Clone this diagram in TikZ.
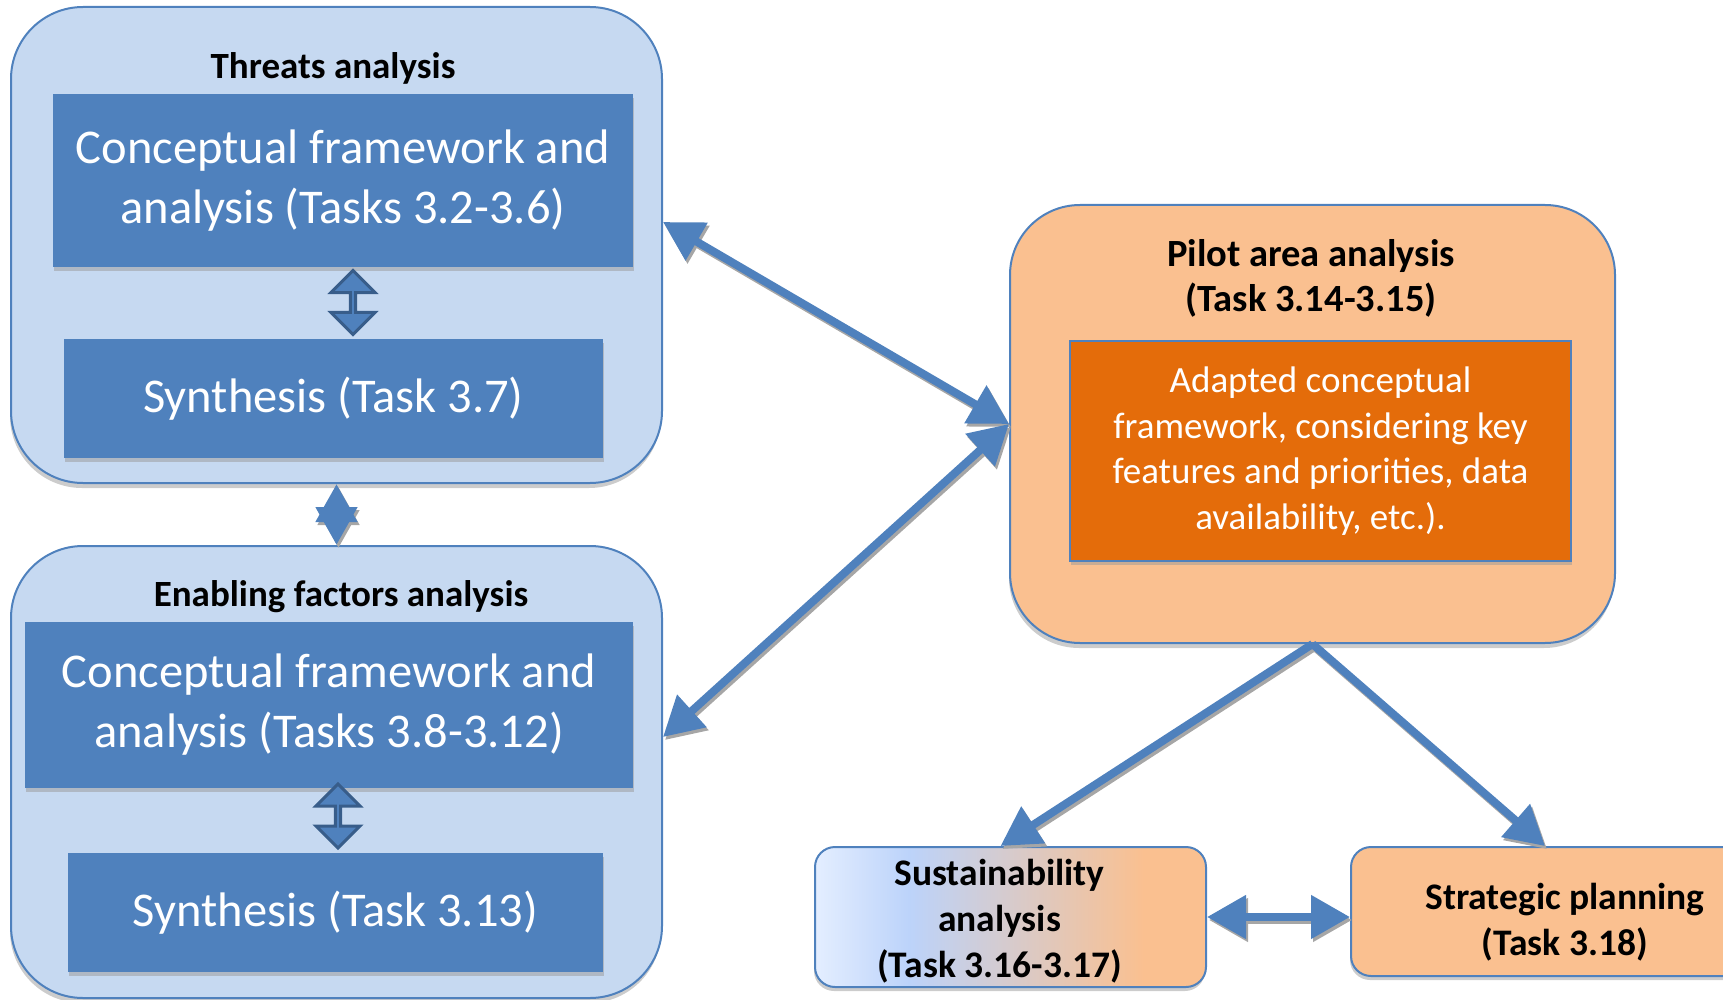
\documentclass[tikz,border=0pt]{standalone}
\usepackage{fontspec}
\setmainfont{Carlito}
\usetikzlibrary{arrows.meta,shadows,shapes.arrows}

\definecolor{wpBlue}{HTML}{4F81BD}
\definecolor{wpDark}{HTML}{385D8A}
\definecolor{wpPale}{HTML}{C6D9F1}
\definecolor{wpPeach}{HTML}{FAC090}
\definecolor{wpOrange}{HTML}{E46C0A}
\definecolor{wpIce}{HTML}{E4EEFF}
\definecolor{wpSky}{HTML}{BCD3FA}

% 25bp..75bp spans the box
\pgfdeclarehorizontalshading{sustshade}{100bp}{color(0bp)=(wpIce); color(25bp)=(wpIce);
  color(37bp)=(wpSky); color(67bp)=(wpPeach); color(100bp)=(wpPeach)}

\tikzset{
  group/.style={draw=wpBlue, line width=2pt, fill=wpPale, rounded corners=72pt,
    minimum width=651pt, drop shadow={shadow xshift=-1pt, shadow yshift=-5pt, fill=black!40}},
  headline/.style={font=\bfseries\fontsize{37}{45}\selectfont, align=center},
  task/.style={fill=wpBlue, text=white, align=center, inner sep=0pt,
    font=\fontsize{48.5}{60}\selectfont,
    drop shadow={shadow xshift=1pt, shadow yshift=-4pt, fill=black!40}},
  updown/.style={double arrow, rotate=90, draw=wpDark, fill=wpBlue, line width=3pt,
    minimum height=64pt, minimum width=44pt, double arrow head extend=11pt, inner sep=0pt},
  smallbox/.style={draw=wpBlue, line width=2pt, rounded corners=20pt,
    drop shadow={shadow xshift=-1pt, shadow yshift=-4pt, fill=black!40}},
  boxtext/.style={align=center, font=\bfseries\fontsize{37.5}{46}\selectfont},
  link/.style={draw=wpBlue, line width=8pt, >={Triangle[length=39pt, width=42pt]}},
  linkshadow/.style={link, draw=black!35, transform canvas={xshift=2pt, yshift=-3pt}},
  shortlink/.style={>={Triangle[length=38pt, width=40pt]}}
}

\begin{document}
\begin{tikzpicture}[x=1pt, y=-1pt]
  \useasboundingbox (0,0) rectangle (1723,1000);
  \clip (0,0) rectangle (1723,1000);

  % threats
  \node[group, minimum height=476pt] (threats) at (336.5,245) {};
  \node[headline] (threatsT) at (333,68) {Threats analysis};
  \node[task, minimum width=580pt, minimum height=173pt] (thrCF) at (343,180.5)
    {Conceptual framework and\\analysis (Tasks 3.2-3.6)};
  \node[task, minimum width=539pt, minimum height=119pt] (thrSy) at (333.5,398.5)
    {Synthesis (Task 3.7)};
  \node[updown] (thrUD) at (353,302.5) {};

  % enabling factors
  \node[group, minimum height=452pt] (enabling) at (336.5,772) {};
  \node[headline] (enablingT) at (341,597) {Enabling factors analysis};
  \node[task, minimum width=608pt, minimum height=166pt] (enaCF) at (329,705)
    {Conceptual framework and\\analysis (Tasks 3.8-3.12)};
  \node[task, minimum width=535pt, minimum height=119pt] (enaSy) at (335.5,912.5)
    {Synthesis (Task 3.13)};
  \node[updown] (enaUD) at (338,816) {};

  % pilot area
  \node[group, fill=wpPeach, rounded corners=70pt, minimum width=605pt,
    minimum height=438pt] (pilot) at (1312.5,424) {};
  \node[headline, font=\bfseries\fontsize{38.5}{45}\selectfont] (pilotT) at (1311,278)
    {Pilot area analysis\\(Task 3.14-3.15)};
  \node[draw=wpBlue, line width=2pt, fill=wpOrange, text=white, align=center,
    minimum width=501pt, minimum height=220pt, font=\fontsize{37}{45.5}\selectfont,
    drop shadow={shadow xshift=1pt, shadow yshift=-4pt, fill=black!40}] (pilotIn) at (1320.5,451)
    {Adapted conceptual\\framework, considering key\\features and priorities, data\\availability, etc.).};

  % follow-up
  \node[smallbox, shading=sustshade, minimum width=391pt, minimum height=140pt] (sust) at (1010.5,917) {};
  \node[boxtext] (sustT) at ([xshift=-11pt, yshift=-4pt]sust.center) {Sustainability\\analysis\\(Task 3.16-3.17)};
  \node[smallbox, fill=wpPeach, minimum width=428pt, minimum height=129pt] (strat) at (1565,911.5) {};
  \node[boxtext] (stratT) at ([yshift=-11pt]strat.center) {Strategic planning\\(Task 3.18)};

  \coordinate (thrA) at ([yshift=23pt]threats.east);
  \coordinate (enaA) at ([yshift=35pt]enabling.east);
  \coordinate (susA) at ([xshift=-10pt]sust.north);
  \coordinate (strA) at ([xshift=-20pt]strat.north);
  \coordinate (strB) at (sust.east -| strat.west);

  \begin{scope}[linkshadow]
    \draw[<->] (thrA) -- (pilot.west);
    \draw[<->] (enaA) -- (pilot.west);
    \draw[->] (pilot.south) -- (susA);
    \draw[->] (pilot.south) -- (strA);
    \draw[<->] (sust.east) -- (strB);
    \draw[<->, shortlink] (threats.south) -- (enabling.north);
  \end{scope}
  \begin{scope}[link]
    \draw[<->] (thrA) -- (pilot.west);
    \draw[<->] (enaA) -- (pilot.west);
    \draw[->] (pilot.south) -- (susA);
    \draw[->] (pilot.south) -- (strA);
    \draw[<->] (sust.east) -- (strB);
    \draw[<->, shortlink] (threats.south) -- (enabling.north);
  \end{scope}
\end{tikzpicture}
\end{document}
